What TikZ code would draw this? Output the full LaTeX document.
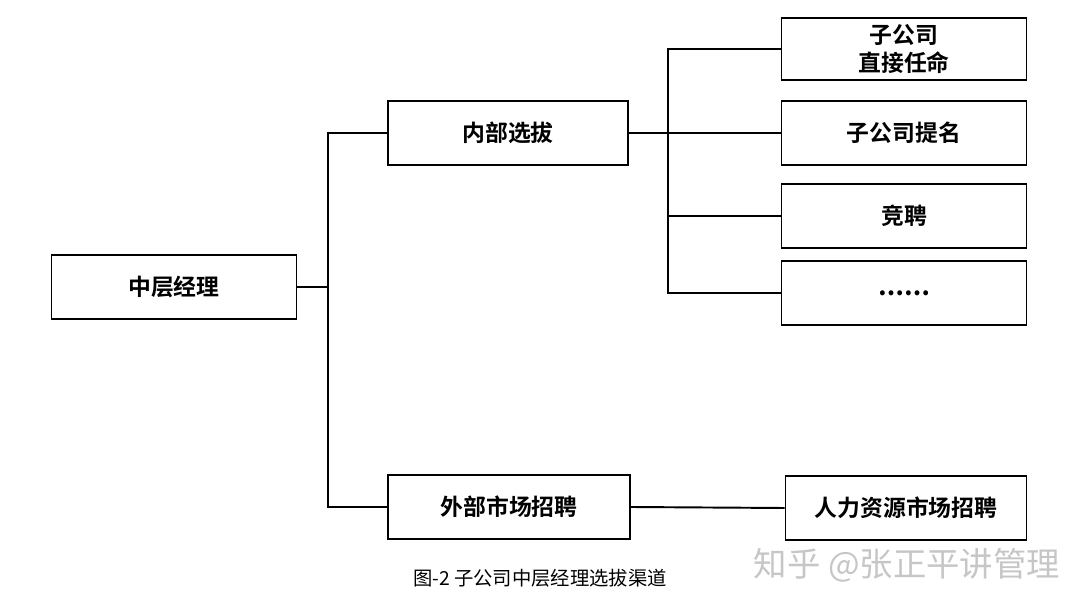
\documentclass[tikz,border=0pt]{standalone}
\usepackage{fontspec}
\setmainfont{Liberation Sans}
\newfontfamily\cjk{Noto Sans CJK SC}
\newfontfamily\cjkb{Noto Sans CJK SC Bold}
\usetikzlibrary{positioning}
\begin{document}
\begin{tikzpicture}[x=0.02cm, y=-0.02cm,
    box/.style={rectangle, draw, line width=1.1pt, minimum width=4.9cm, minimum height=1.28cm, align=center, font=\cjkb\fontsize{13}{15.5}\selectfont, inner sep=0pt},
    link/.style={line width=1.1pt}
]
\useasboundingbox (0,0) rectangle (1080,608);

% Level 1
\node[box] (mgr) at (174,287) {中层经理};

% Level 2
\node[box, minimum width=4.8cm] (inner) at (508,133) {内部选拔};
\node[box, minimum width=4.84cm] (outer) at (509,507) {外部市场招聘};

% Level 3
\node[box, minimum height=1.24cm] (appoint) at (904,49) {子公司\\直接任命};
\node[box] (nominate) at (904,133) {子公司提名};
\node[box] (compete) at (904,216) {竞聘};
\node[box] (more) at (904,293) {\textbf{……}};
\node[box, minimum width=4.82cm] (market) at (906,508) {人力资源市场招聘};

% Connectors
\coordinate (j1) at (328,287);
\coordinate (j2) at (668,133);
\draw[link] (mgr.east) -- (j1);
\draw[link] (inner.west) -| (j1) |- (outer.west);
\draw[link] (inner.east) -- (j2);
\draw[link] (appoint.west) -| (j2) |- (more.west);
\draw[link] (j2) -- (nominate.west);
\draw[link] (compete.west) -| (j2);
\draw[link] (outer.east) -- (market.west);

% Caption
\node[font=\cjk\fontsize{11}{13}\selectfont] (caption) at (540,578) {图-2 子公司中层经理选拔渠道};
\node[font=\cjk\fontsize{19}{23}\selectfont, text=gray!45] (mark) at (907,565) {知乎 @张正平讲管理};
\end{tikzpicture}
\end{document}
